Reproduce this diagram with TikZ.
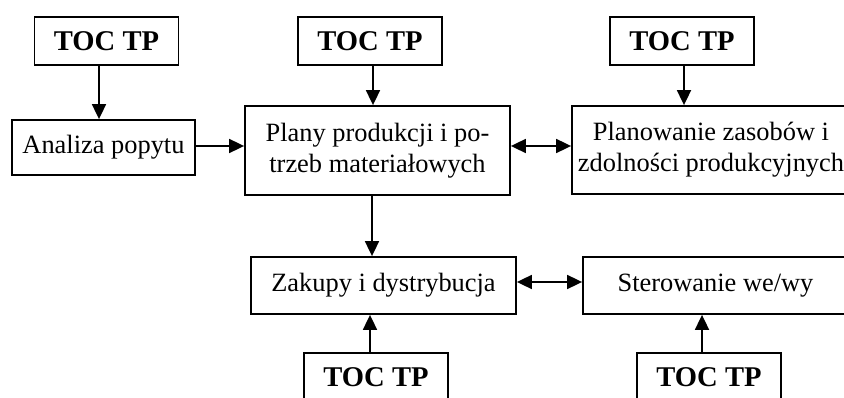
\documentclass[tikz,border=0pt]{standalone}
\usepackage{fontspec}
\setmainfont{Liberation Serif}
\usetikzlibrary{positioning, arrows.meta, calc}

\begin{document}
\begin{tikzpicture}[
  x=1pt, y=-1pt,
  tocbox/.style={draw, line width=1.8pt, inner sep=0pt, minimum width=144pt, minimum height=48pt, font=\fontsize{28.6}{32}\selectfont\bfseries},
  procbox/.style={draw, line width=1.8pt, inner sep=0pt, minimum width=265pt, align=center, font=\fontsize{26.4}{31}\selectfont},
  arr/.style={line width=1.8pt, -{Triangle[length=15pt, width=14pt]}},
  dblarr/.style={line width=1.8pt, {Triangle[length=15pt, width=14pt]}-{Triangle[length=15pt, width=14pt]}},
]
  \useasboundingbox (0,0) rectangle (844,398);

  % Process boxes
  \node[procbox, minimum width=183pt, minimum height=55pt] (analiza) at (103.5,147.5) {Analiza popytu};
  \node[procbox, minimum height=89pt] (plany) at (377.5,150.5) {Plany produkcji i po-\\trzeb materiałowych};
  \node[procbox, minimum width=278pt, minimum height=88pt] (zasoby) at (711,150) {Planowanie zasobów i\\zdolności produkcyjnych};
  \node[procbox, minimum height=57pt] (zakupy) at (383.5,285.5) {Zakupy i dystrybucja};
  \node[procbox, minimum height=57pt] (sterowanie) at (715.5,285.5) {Sterowanie we/wy};

  % TOC TP boxes
  \node[tocbox] (tocA) at (106.5,41) {TOC TP};
  \node[tocbox] (tocB) at (370,41) {TOC TP};
  \node[tocbox] (tocC) at (682,41) {TOC TP};
  \node[tocbox] (tocD) at (376,377) {TOC TP};
  \node[tocbox] (tocE) at (709,377) {TOC TP};

  % Connectors
  \draw[arr] ([xshift=-7.5pt]tocA.south) -- ([xshift=-7.5pt]tocA.south |- analiza.north);
  \draw[arr] ([xshift=3pt]tocB.south) -- ([xshift=3pt]tocB.south |- plany.north);
  \draw[arr] ([xshift=2pt]tocC.south) -- ([xshift=2pt]tocC.south |- zasoby.north);
  \draw[arr] ([yshift=1.5pt]analiza.east) -- ([yshift=1.5pt]analiza.east -| plany.west);
  \draw[dblarr] ([yshift=4.5pt]plany.east) -- ([yshift=4.5pt]plany.east -| zasoby.west);
  \draw[arr] ([xshift=-5.5pt]plany.south) -- ([xshift=-5.5pt]plany.south |- zakupy.north);
  \draw[dblarr] ([yshift=3.5pt]zakupy.east) -- ([yshift=3.5pt]zakupy.east -| sterowanie.west);
  \draw[arr] ([xshift=-6pt]tocD.north) -- ([xshift=-6pt]tocD.north |- zakupy.south);
  \draw[arr] ([xshift=-7pt]tocE.north) -- ([xshift=-7pt]tocE.north |- sterowanie.south);
\end{tikzpicture}
\end{document}
